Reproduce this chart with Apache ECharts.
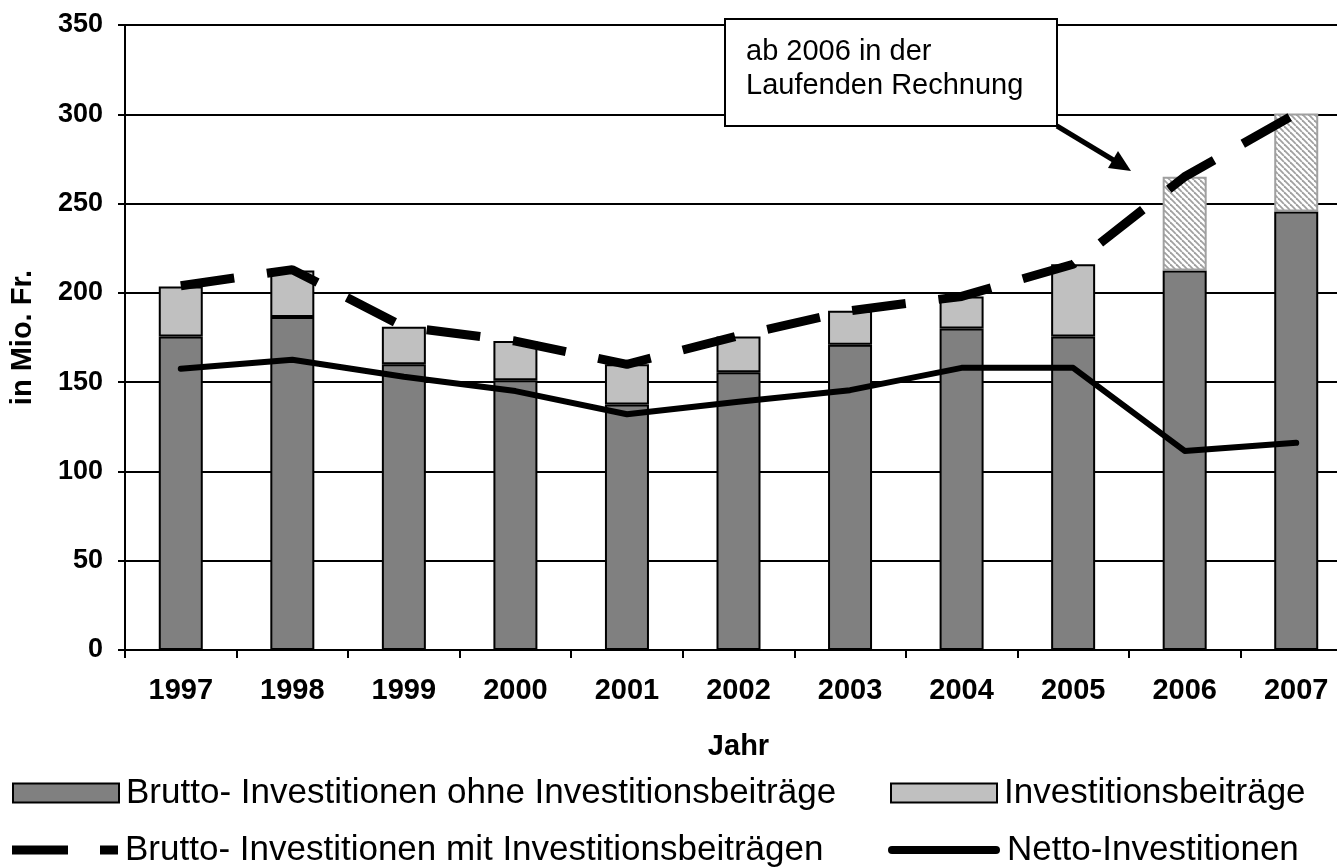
<!DOCTYPE html>
<html>
<head>
<meta charset="utf-8">
<script src="https://cdn.jsdelivr.net/npm/echarts@6/dist/echarts.min.js"></script>
<style>
html,body{margin:0;padding:0;background:#fff;overflow:hidden;}
#c{width:1362px;height:867px;}
</style>
</head>
<body>
<div id="c"></div>
<script>
const years = ['1997','1998','1999','2000','2001','2002','2003','2004','2005','2006','2007'];
const bruttoOhne = [175.5, 186.5, 160, 151, 137.5, 155.5, 171, 180, 175.5, 212.5, 245.5];
const beitraege = [28, 26, 21, 22, 22.5, 20, 19, 18, 40.5, 52.5, 55];
const bruttoMit = [204, 213, 181, 173, 160, 176, 190, 198, 216, 265, 300.5];
const netto = [157.5, 162.5, 153, 145, 132, 139, 145.5, 158, 158, 111.5, 116];
const yTicks = [0, 50, 100, 150, 200, 250, 300, 350];
const hatchedFrom = '2006';

const FONT = "'Liberation Sans', Arial, Helvetica, sans-serif";

// hatch pattern
const pc = document.createElement('canvas');
pc.width = 6; pc.height = 6;
const g = pc.getContext('2d');
g.fillStyle = '#ffffff'; g.fillRect(0,0,6,6);
g.strokeStyle = '#a0a0a0'; g.lineWidth = 1.8;
for (let k = -6; k <= 6; k += 6) {
  g.beginPath(); g.moveTo(k, 0); g.lineTo(k + 6, 6); g.stroke();
}
const hatch = {image: pc, repeat: 'repeat'};

const hIdx = years.indexOf(hatchedFrom);
const beitraegeData = beitraege.map((v, i) => i >= hIdx ?
  {value: v, itemStyle: {color: hatch, borderColor: '#a0a0a0', borderWidth: 2}} : v);

const chart = echarts.init(document.getElementById('c'));

const textStyle = {fontFamily: FONT, fontSize: 35, color: '#000', padding: [0,0,0,2], lineHeight: 40};
const legendBase = {orient: 'vertical', selectedMode: false, padding: 0, textStyle: textStyle};

chart.setOption({
  animation: false,
  backgroundColor: '#fff',
  grid: {left: 124, width: 1228, top: 25, height: 625, containLabel: false},
  legend: [
    Object.assign({}, legendBase, {left: 12, top: 773, itemWidth: 106, itemHeight: 19,
      data: [{name: 'Brutto- Investitionen ohne Investitionsbeiträge', icon: 'rect'}]}),
    Object.assign({}, legendBase, {left: 12, top: 830, itemWidth: 106, itemHeight: 9,
      data: [{name: 'Brutto- Investitionen mit Investitionsbeiträgen',
              icon: 'path://M0,0H56V9H0Z M88,0H106V9H88Z',
              itemStyle: {color: '#000', borderWidth: 0}}]}),
    Object.assign({}, legendBase, {left: 890, top: 773, itemWidth: 106, itemHeight: 19,
      data: [{name: 'Investitionsbeiträge', icon: 'rect'}]}),
    Object.assign({}, legendBase, {left: 888, top: 830, itemWidth: 112, itemHeight: 8,
      data: [{name: 'Netto-Investitionen',
              icon: 'path://M4,0H108A4,4 0 0 1 108,8H4A4,4 0 0 1 4,0Z',
              itemStyle: {color: '#000', borderWidth: 0}}]})
  ],
  xAxis: {
    type: 'category',
    data: years,
    boundaryGap: true,
    name: 'Jahr',
    nameLocation: 'middle',
    nameGap: 82,
    nameTextStyle: {fontFamily: FONT, fontSize: 29, fontWeight: 'bold', color: '#000'},
    axisLine: {lineStyle: {color: '#000', width: 2}},
    axisTick: {show: true, alignWithLabel: false, length: 8, lineStyle: {color: '#000', width: 2}},
    axisLabel: {fontFamily: FONT, fontSize: 29, fontWeight: 'bold', color: '#000', margin: 26},
    splitLine: {show: false}
  },
  yAxis: {
    type: 'value',
    min: yTicks[0],
    max: yTicks[yTicks.length - 1],
    interval: 50,
    name: 'in Mio. Fr.',
    nameLocation: 'middle',
    nameGap: 88,
    nameRotate: 90,
    nameTextStyle: {fontFamily: FONT, fontSize: 29, fontWeight: 'bold', color: '#000'},
    axisLine: {show: true, lineStyle: {color: '#000', width: 2}},
    axisTick: {show: true, length: 7, lineStyle: {color: '#000', width: 2}},
    axisLabel: {fontFamily: FONT, fontSize: 27, fontWeight: 'bold', color: '#000', margin: 22},
    splitLine: {show: true, lineStyle: {color: '#000', width: 2}}
  },
  series: [
    {
      name: 'Brutto- Investitionen ohne Investitionsbeiträge',
      type: 'bar',
      stack: 'b',
      barWidth: 44,
      data: bruttoOhne,
      itemStyle: {color: '#808080', borderColor: '#000', borderWidth: 2},
      z: 2
    },
    {
      name: 'Investitionsbeiträge',
      type: 'bar',
      stack: 'b',
      barWidth: 44,
      data: beitraegeData,
      itemStyle: {color: '#c0c0c0', borderColor: '#000', borderWidth: 2},
      z: 2
    },
    {
      name: 'Brutto- Investitionen mit Investitionsbeiträgen',
      type: 'line',
      data: bruttoMit,
      symbol: 'none',
      lineStyle: {color: '#000', width: 9, type: [54, 33], cap: 'butt'},
      itemStyle: {color: '#000'},
      z: 5
    },
    {
      name: 'Netto-Investitionen',
      type: 'line',
      data: netto,
      symbol: 'none',
      lineStyle: {color: '#000', width: 6, cap: 'round', join: 'round'},
      itemStyle: {color: '#000'},
      z: 6
    }
  ],
  graphic: [
    {
      type: 'rect', z: 100,
      shape: {x: 725, y: 19, width: 332, height: 107},
      style: {fill: '#fff', stroke: '#000', lineWidth: 2}
    },
    {
      type: 'text', z: 101, left: 746, top: 35,
      style: {text: 'ab 2006 in der\nLaufenden Rechnung', font: '29px ' + FONT, fill: '#000', lineHeight: 34}
    },
    {
      type: 'line', z: 100,
      shape: {x1: 1057, y1: 126, x2: 1115, y2: 161},
      style: {stroke: '#000', lineWidth: 5}
    },
    {
      type: 'polygon', z: 100,
      shape: {points: [[1131, 171], [1108, 168], [1118, 151]]},
      style: {fill: '#000'}
    }
  ]
});
</script>
</body>
</html>
